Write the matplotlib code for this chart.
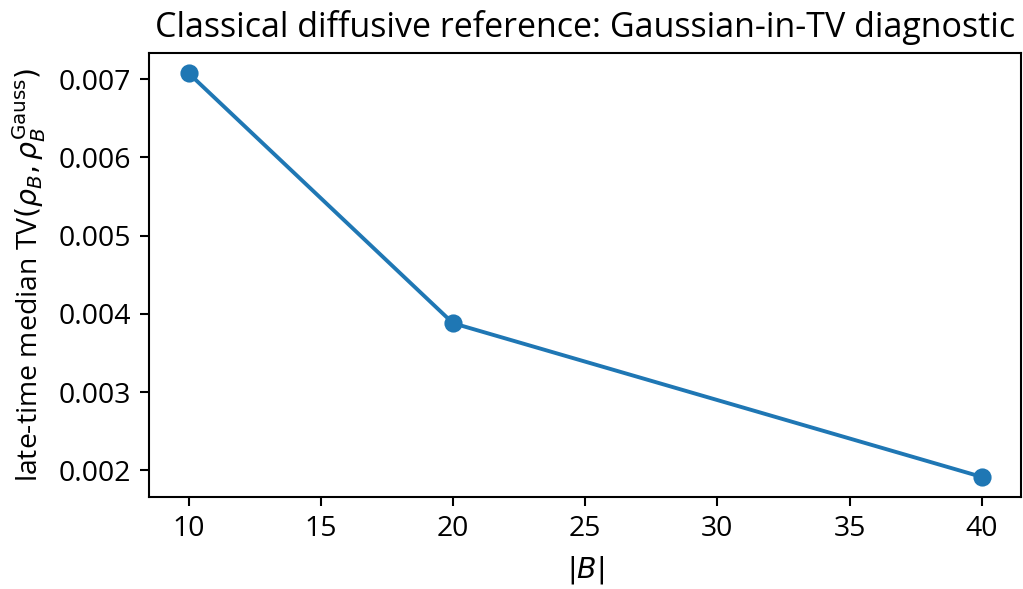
import matplotlib
matplotlib.use("Agg")
import matplotlib.pyplot as plt

plt.rcParams["font.family"] = ["Open Sans", "DejaVu Sans"]
plt.rcParams["font.size"] = 10.95
plt.rcParams["axes.titlesize"] = 13.1

# Subsystem sizes and late-time median TV distance to the Gaussian reference
block_sizes = [10, 20, 40]
median_tv = [0.007076, 0.003880, 0.001915]

dpi = 187
fig = plt.figure(figsize=(1024 / dpi, 589 / dpi), dpi=dpi)
ax = fig.add_axes([0.1455, 0.156, 0.852, 0.754])

ax.plot(block_sizes, median_tv, marker="o", color="#1f77b4")
ax.set_xlabel(r"$|B|$")
ax.set_ylabel(r"late-time median TV$(\rho_B,\rho_B^{\mathrm{Gauss}})$")
ax.set_title("Classical diffusive reference: Gaussian-in-TV diagnostic")

fig.savefig("out.png", dpi=dpi)
